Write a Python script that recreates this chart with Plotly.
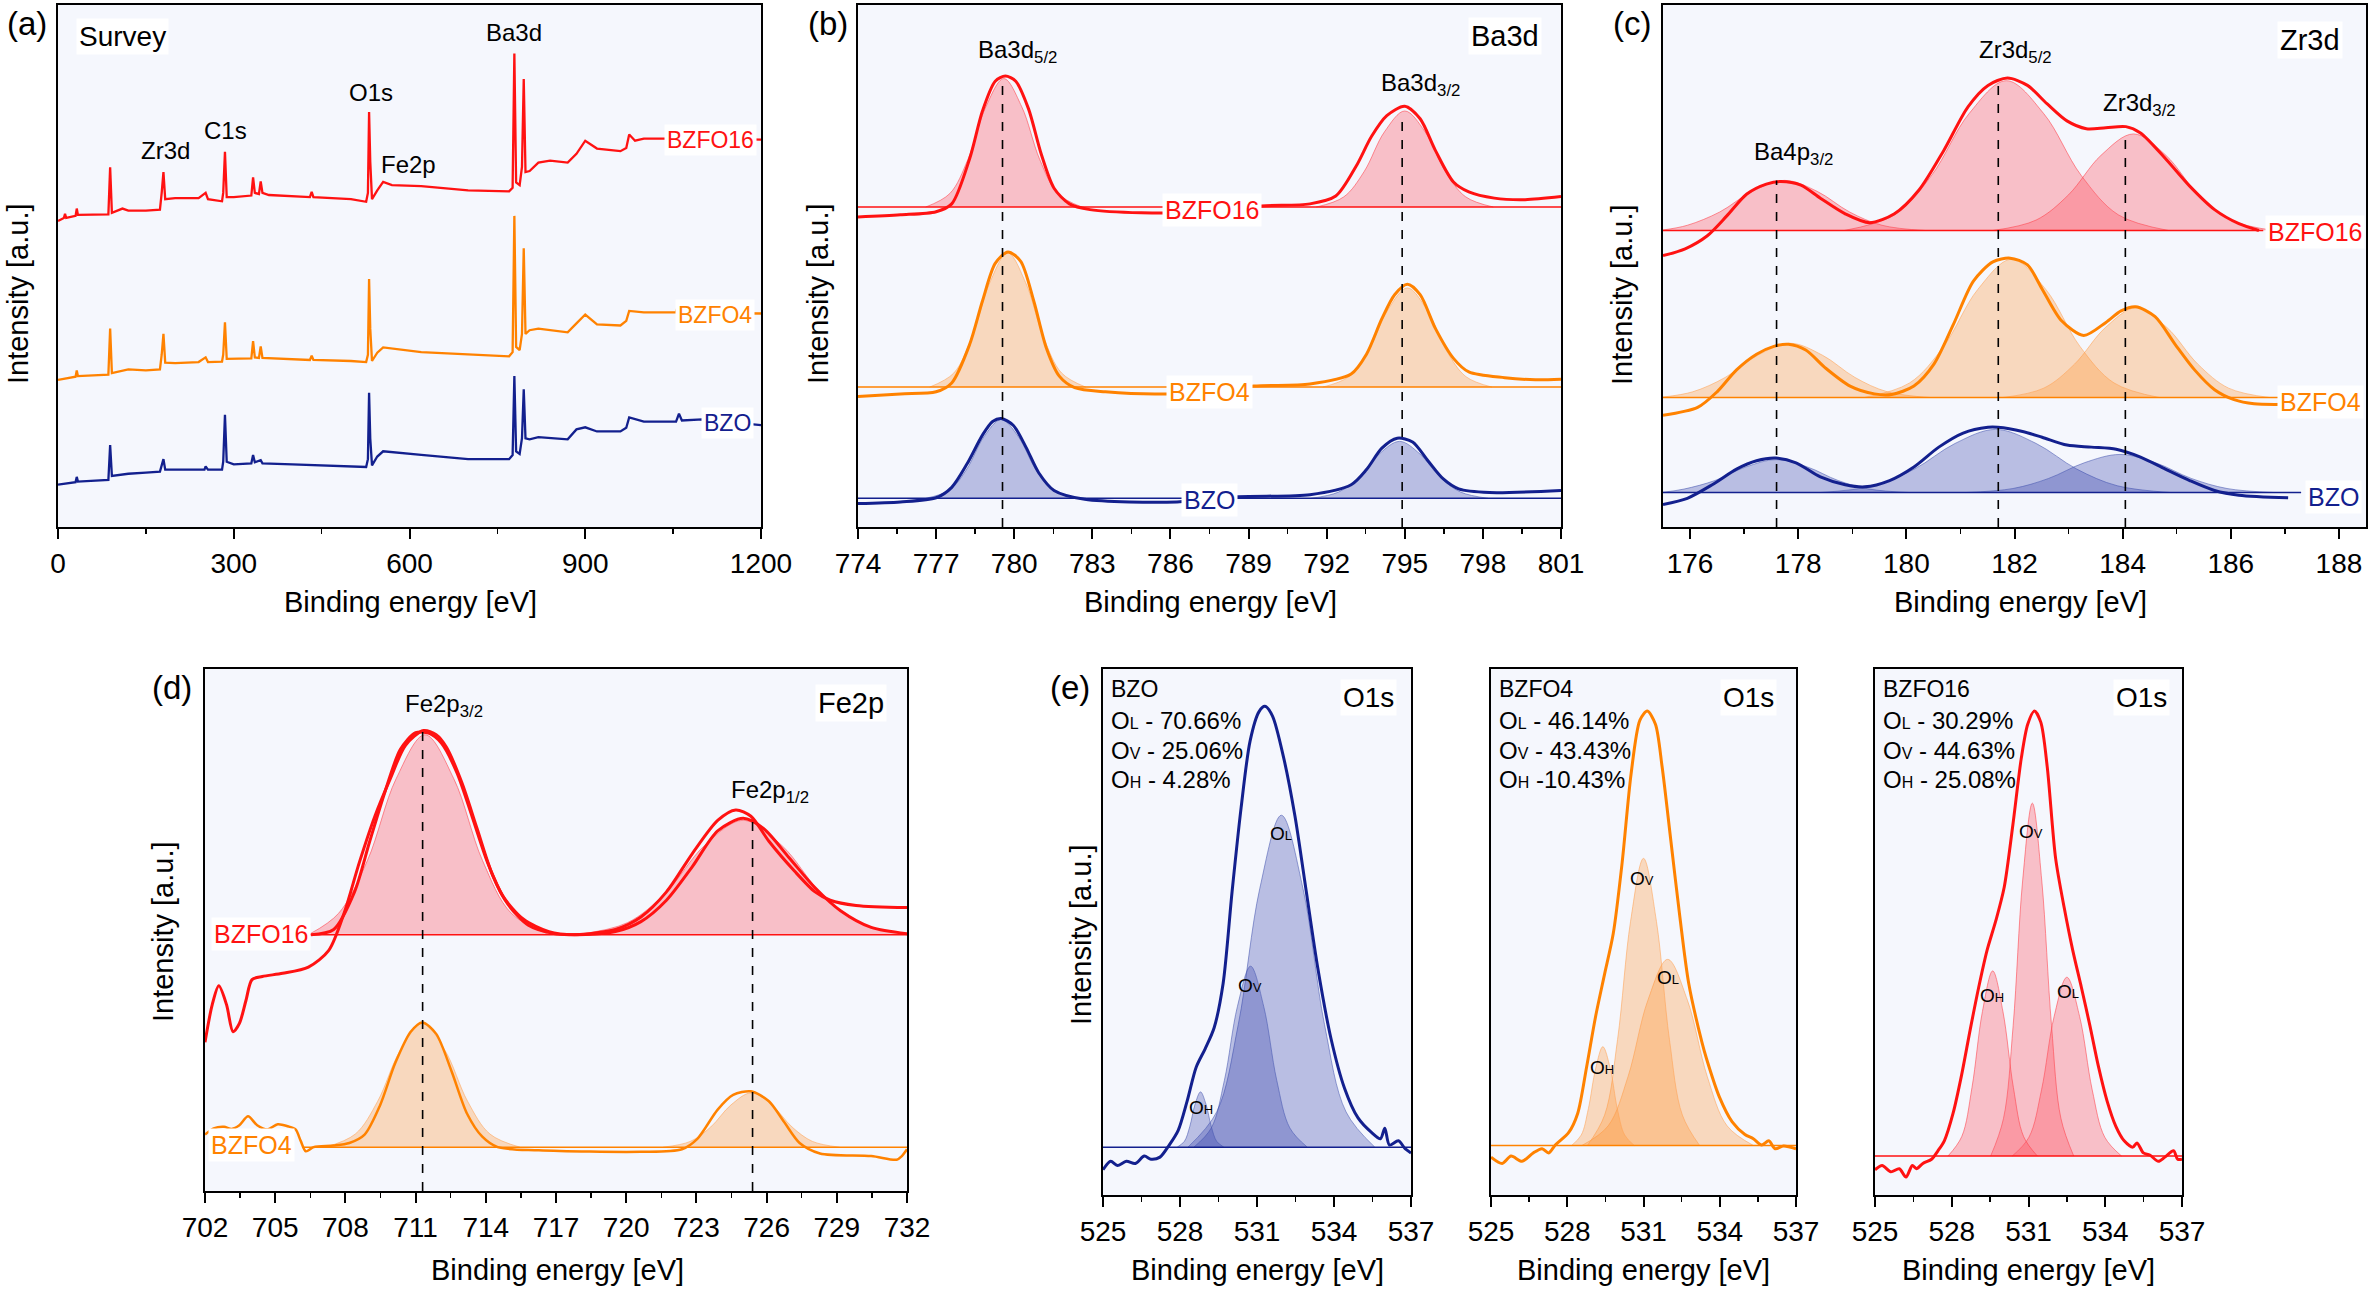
import plotly.graph_objects as go

# ======================= DATA =======================
# y values are in arbitrary intensity units (0..100 over the plot height)

# (a) survey spectra: (binding energy eV, intensity)
a_bzfo16 = [(0, 58.6), (10, 59.2), (12, 60.0), (14, 59.2), (30, 59.6), (32, 61.0), (34, 59.8), (60, 59.8),
            (86, 59.9), (89, 68.9), (92, 60.2), (110, 61.0), (120, 60.6), (150, 60.6), (174, 60.8), (177, 64.0),
            (180, 68.0), (183, 62.8), (200, 63.0), (240, 63.0), (252, 64.0), (256, 62.8), (280, 62.4), (282, 64.0),
            (285, 71.9), (288, 63.2), (300, 63.2), (330, 63.5), (333, 67.0), (336, 64.0), (343, 63.8), (346, 66.2),
            (349, 64.0), (360, 63.6), (400, 63.4), (430, 63.2), (433, 64.2), (436, 63.2), (500, 62.8), (526, 62.3),
            (529, 64.0), (531, 79.5), (533, 70.0), (536, 62.8), (545, 64.5), (555, 66.1), (570, 65.5), (620, 65.3),
            (700, 64.5), (770, 64.3), (776, 65.0), (779, 90.7), (782, 66.0), (788, 65.5), (792, 69.0), (795, 85.8),
            (798, 68.0), (805, 68.2), (820, 69.8), (840, 70.2), (870, 69.8), (885, 71.5), (900, 74.0), (920, 72.5),
            (960, 72.0), (970, 72.6), (975, 75.2), (985, 74.0), (1000, 74.4), (1035, 74.4), (1100, 74.4), (1200, 74.2)]
a_bzfo4 = [(0, 28.2), (30, 28.8), (32, 30.0), (34, 28.9), (86, 29.2), (89, 38.0), (92, 29.5), (120, 30.2), (150, 30.0),
           (174, 30.2), (177, 33.0), (180, 37.0), (183, 31.5), (200, 31.4), (240, 31.6), (252, 32.5), (256, 31.6),
           (280, 31.7), (282, 33.0), (285, 39.2), (288, 32.2), (330, 32.3), (333, 35.6), (336, 32.5), (343, 32.4),
           (346, 34.6), (349, 32.4), (400, 32.1), (430, 32.0), (433, 32.8), (436, 32.0), (500, 31.8), (526, 31.6),
           (529, 33.0), (531, 47.5), (533, 38.0), (536, 31.8), (545, 33.4), (555, 34.4), (620, 33.5), (700, 33.1),
           (770, 32.7), (776, 33.5), (779, 59.6), (782, 34.5), (788, 33.9), (792, 37.0), (795, 53.4), (798, 37.0),
           (805, 37.7), (820, 38.0), (870, 37.3), (885, 39.0), (900, 40.7), (920, 38.8), (960, 38.6), (970, 39.5),
           (975, 41.4), (1000, 41.1), (1055, 41.1), (1060, 43.2), (1063, 41.0), (1100, 41.0), (1200, 40.9)]
a_bzo = [(0, 8.1), (30, 8.6), (32, 9.6), (34, 8.7), (86, 9.0), (89, 15.7), (92, 9.8), (120, 10.2), (150, 10.4),
         (174, 10.6), (177, 11.8), (180, 13.0), (183, 11.0), (200, 11.0), (250, 11.0), (252, 11.6), (256, 11.0),
         (280, 11.0), (282, 12.5), (285, 21.5), (288, 12.5), (300, 12.0), (330, 12.2), (333, 13.8), (336, 12.4),
         (346, 12.8), (349, 12.2), (400, 12.0), (500, 11.7), (526, 11.5), (529, 13.0), (531, 25.7), (533, 17.0),
         (536, 11.8), (545, 13.5), (555, 14.5), (620, 13.8), (700, 13.0), (770, 13.0), (776, 13.8), (779, 28.9),
         (782, 14.5), (788, 14.0), (792, 17.0), (795, 26.4), (798, 17.0), (805, 16.8), (820, 17.2), (870, 16.8),
         (885, 18.7), (900, 19.1), (920, 18.3), (960, 18.3), (970, 19.0), (975, 21.0), (1000, 20.2), (1055, 20.2),
         (1060, 21.7), (1065, 20.4), (1100, 20.6), (1200, 19.5)]

# (b) Ba3d
b_bzfo16 = [(774.0, 59.4), (775.63, 59.8), (777.0, 60.4), (777.6, 61.9), (778.29, 70.6), (778.78, 79.7),
            (779.27, 85.4), (779.66, 86.4), (780.06, 85.4), (780.55, 80.1), (781.04, 71.4), (781.53, 64.9),
            (782.12, 61.9), (782.91, 60.8), (784.88, 60.2), (787.43, 60.4), (789.5, 61.5), (791.36, 61.9),
            (792.35, 63.4), (793.13, 69.1), (793.72, 74.8), (794.31, 78.8), (795.0, 80.6), (795.59, 78.2),
            (796.18, 72.1), (796.87, 66.1), (797.46, 64.2), (798.44, 63.0), (799.62, 62.7), (801.0, 63.3)]
b_bzfo4 = [(774.0, 25.0), (775.63, 25.5), (777.0, 25.9), (777.6, 27.6), (778.29, 35.0), (778.78, 43.3),
           (779.27, 50.5), (779.76, 52.7), (780.25, 50.9), (780.75, 43.3), (781.24, 34.2), (781.73, 28.9),
           (782.32, 26.7), (783.5, 25.9), (785.86, 25.5), (789.2, 27.0), (791.36, 27.4), (792.94, 29.3),
           (793.53, 33.1), (794.12, 39.9), (794.61, 44.5), (795.1, 46.5), (795.59, 44.5), (796.18, 38.0),
           (796.87, 32.3), (797.46, 29.7), (798.84, 28.6), (800.02, 28.2), (801.0, 28.3)]
b_bzo = [(774.0, 4.5), (775.63, 4.8), (777.0, 5.6), (777.6, 7.6), (778.19, 12.1), (778.78, 17.6), (779.17, 20.2),
         (779.5, 20.8), (779.96, 19.5), (780.45, 15.3), (780.94, 10.4), (781.53, 7.0), (782.71, 5.3), (786.25, 4.8),
         (788.6, 5.8), (791.36, 6.2), (792.94, 8.1), (793.53, 11.0), (794.12, 15.1), (794.71, 17.0), (795.3, 16.3),
         (795.89, 12.7), (796.48, 9.2), (797.07, 7.3), (798.25, 6.6), (801.0, 7.0)]
b_baselines = {"BZFO16": 61.3, "BZFO4": 26.8, "BZO": 5.5}
b_comps_bzfo16 = [
    [(776.6, 61.3), (777.53, 63.9), (778.22, 70.4), (778.91, 80.5), (779.6, 85.9), (780.29, 80.5), (780.98, 70.4), (781.67, 63.9), (782.6, 61.3)],
    [(791.6, 61.3), (792.66, 63.25), (793.44, 68.1), (794.22, 75.7), (795.0, 79.7), (795.78, 75.7), (796.56, 68.1), (797.34, 63.25), (798.4, 61.3)]]
b_comps_bzfo4 = [
    [(776.75, 26.8), (777.68, 29.5), (778.37, 36.3), (779.06, 46.8), (779.75, 52.5), (780.44, 46.8), (781.13, 36.3), (781.82, 29.5), (782.75, 26.8)],
    [(791.85, 26.8), (792.85, 28.8), (793.6, 33.8), (794.35, 41.6), (795.1, 45.8), (795.85, 41.6), (796.6, 33.8), (797.35, 28.8), (798.35, 26.8)]]
b_comps_bzo = [
    [(776.6, 5.5), (777.52, 7.1), (778.18, 11.1), (778.84, 17.3), (779.5, 20.6), (780.16, 17.3), (780.82, 11.1), (781.48, 7.1), (782.4, 5.5)],
    [(791.4, 5.5), (792.46, 6.7), (793.24, 9.5), (794.02, 14.0), (794.8, 16.4), (795.58, 14.0), (796.36, 9.5), (797.14, 6.7), (798.2, 5.5)]]
b_peak_pos = [779.55, 794.9]
b_peak_top = [86.1, 78.9]

# (c) Zr3d
c_bzfo16 = [(175.5, 52.0), (175.91, 53.3), (176.32, 55.8), (176.68, 59.6), (177.05, 63.8), (177.41, 65.7),
            (177.68, 66.2), (178.05, 65.5), (178.41, 63.0), (178.87, 60.0), (179.32, 58.3), (179.78, 60.0),
            (180.23, 64.5), (180.69, 72.1), (181.14, 80.5), (181.51, 84.6), (181.87, 86.0), (182.24, 84.6),
            (182.6, 81.1), (182.97, 77.8), (183.33, 76.3), (183.69, 76.5), (184.06, 76.7), (184.33, 75.5),
            (184.79, 70.6), (185.24, 65.3), (185.7, 60.8), (186.15, 58.1), (186.52, 56.8)]
c_bzfo4 = [(175.5, 21.4), (176.14, 22.9), (176.5, 25.9), (176.86, 30.1), (177.23, 33.1), (177.55, 34.6),
           (177.82, 35.0), (178.14, 33.9), (178.5, 30.5), (178.96, 27.0), (179.41, 25.5), (179.73, 25.4),
           (180.14, 27.0), (180.51, 31.2), (180.87, 38.8), (181.24, 47.1), (181.6, 50.8), (181.92, 51.5),
           (182.24, 50.2), (182.51, 45.6), (182.87, 39.5), (183.28, 36.7), (183.69, 39.2), (183.97, 41.4),
           (184.24, 42.2), (184.6, 40.3), (184.97, 35.0), (185.33, 30.1), (185.7, 26.3), (186.06, 24.4),
           (186.43, 23.6), (187.06, 23.5)]
c_bzo = [(175.5, 4.3), (175.95, 5.5), (176.41, 8.1), (176.86, 11.1), (177.23, 12.7), (177.59, 13.2), (177.96, 12.3),
         (178.41, 9.6), (178.87, 8.1), (179.23, 7.7), (179.69, 8.9), (180.14, 11.5), (180.6, 15.3), (181.05, 18.0),
         (181.51, 19.1), (181.69, 19.1), (182.15, 18.3), (182.51, 17.2), (182.97, 15.7), (183.42, 15.3),
         (183.88, 14.9), (184.33, 13.4), (184.79, 11.1), (185.24, 8.9), (185.7, 7.0), (186.15, 6.1), (187.06, 5.6)]
c_baselines = {"BZFO16": 56.8, "BZFO4": 24.8, "BZO": 6.6}
c_comps_bzfo16 = [
    [(175.5, 56.9), (175.95, 57.8), (176.55, 60.35), (177.15, 64.3), (177.75, 66.4), (178.35, 64.3), (178.95, 60.35), (179.55, 57.8), (180.35, 56.8)],
    [(178.85, 56.8), (179.78, 59.8), (180.47, 67.4), (181.16, 79.2), (181.85, 85.5), (182.54, 79.2), (183.23, 67.4), (183.92, 59.8), (184.85, 56.8)],
    [(181.6, 56.8), (182.4, 58.8), (183.0, 63.65), (183.6, 71.2), (184.2, 75.3), (184.8, 71.2), (185.4, 63.65), (186.0, 58.8), (186.8, 56.8)]]
c_comps_bzfo4 = [
    [(175.5, 24.9), (176.05, 25.9), (176.65, 28.65), (177.25, 32.9), (177.85, 35.2), (178.45, 32.9), (179.05, 28.65), (179.65, 25.9), (180.45, 24.8)],
    [(179.22, 24.8), (180.06, 27.6), (180.69, 34.6), (181.32, 45.5), (181.95, 51.3), (182.58, 45.5), (183.21, 34.6), (183.84, 27.6), (184.68, 24.8)],
    [(181.78, 24.8), (182.54, 26.6), (183.11, 31.2), (183.68, 38.2), (184.25, 42.0), (184.82, 38.2), (185.39, 31.2), (185.96, 26.6), (186.72, 24.8)]]
c_comps_bzo = [
    [(175.5, 6.65), (175.89, 7.27), (176.46, 8.9), (177.03, 11.5), (177.6, 12.9), (178.17, 11.5), (178.74, 8.9), (179.31, 7.27), (180.07, 6.6)],
    [(178.4, 6.6), (179.4, 7.9), (180.15, 11.1), (180.9, 16.0), (181.65, 18.7), (182.4, 16.0), (183.15, 11.1), (183.9, 7.9), (184.9, 6.6)],
    [(181.09, 6.6), (181.97, 7.37), (182.63, 9.3), (183.29, 12.3), (183.95, 13.9), (184.61, 12.3), (185.27, 9.3), (185.93, 7.37), (186.81, 6.6)]]
c_peak_pos = [177.6, 181.7, 184.05]
c_peak_top = [66.4, 86.1, 75.5]

# (d) Fe2p
d_bzfo16 = [(702.0, 28.5), (702.31, 35.7), (702.59, 39.3), (702.92, 35.7), (703.2, 30.5), (703.47, 32.1),
            (703.75, 36.5), (704.01, 40.5), (704.45, 41.1), (705.32, 41.7), (706.42, 42.9), (707.29, 46.1),
            (707.95, 53.3), (708.6, 63.0), (709.26, 71.8), (709.92, 79.0), (710.57, 85.4), (711.34, 88.2),
            (711.88, 87.4), (712.32, 85.0), (712.98, 78.2), (713.63, 69.4), (714.29, 60.5), (714.95, 54.9),
            (715.82, 50.9), (716.91, 49.3), (717.57, 49.1), (718.44, 49.3), (719.54, 50.1), (720.63, 52.5),
            (721.72, 57.3), (722.82, 64.6), (723.91, 71.0), (724.68, 73.0), (725.33, 71.8), (726.1, 67.0),
            (727.19, 61.3), (728.07, 57.3), (728.72, 55.7), (729.82, 54.7), (732.0, 54.3)]
d_fit_bzfo16 = [(706.53, 49.1), (707.5, 50.1), (708.39, 57.3), (709.04, 67.0), (709.7, 76.6), (710.35, 84.6),
                (711.0, 87.8), (711.56, 87.7), (712.1, 85.8), (712.76, 80.2), (713.41, 71.8), (714.07, 63.0),
                (714.73, 56.5), (715.6, 52.1), (716.7, 49.7), (717.79, 49.1), (719.54, 49.7), (720.63, 51.6),
                (721.72, 55.7), (722.82, 62.1), (723.91, 69.0), (725.0, 71.4), (725.88, 69.4), (726.97, 63.8),
                (728.07, 58.1), (729.16, 53.7), (730.47, 50.5), (732.0, 49.3)]
d_bzfo4 = [(702.0, 10.8), (702.37, 12.0), (702.81, 12.3), (703.14, 11.9), (703.47, 12.6), (703.84, 14.3),
           (704.23, 12.6), (704.67, 11.8), (705.11, 12.8), (705.54, 12.4), (705.87, 11.8), (706.09, 9.6),
           (706.31, 7.6), (706.64, 8.4), (707.51, 8.7), (708.17, 9.2), (708.82, 10.8), (709.48, 16.4),
           (710.13, 24.5), (710.79, 30.5), (711.29, 32.3), (711.88, 30.1), (712.54, 22.9), (713.2, 14.8),
           (713.85, 10.4), (714.51, 8.4), (716.26, 7.8), (720.63, 7.5), (722.38, 8.0), (723.04, 10.0),
           (723.91, 15.6), (724.57, 18.4), (725.33, 19.1), (726.1, 17.2), (726.75, 13.2), (727.41, 9.2),
           (728.28, 7.2), (730.47, 6.7), (731.56, 6.0), (731.78, 6.7), (732.0, 8.0)]
d_baselines = {"BZFO16": 49.1, "BZFO4": 8.4}
d_comps_bzfo16 = [
    [(706.5, 49.3), (707.71, 53.2), (708.94, 63.3), (710.17, 79.0), (711.4, 87.4), (712.63, 79.0), (713.86, 63.3), (715.09, 53.2), (716.73, 49.1)],
    [(717.85, 49.1), (720.05, 51.4), (721.7, 57.2), (723.35, 66.2), (725.0, 71.0), (726.65, 66.2), (728.3, 57.2), (729.95, 51.4), (732.0, 49.2)]]
d_comps_bzfo4 = [
    [(707.14, 8.4), (708.42, 10.9), (709.38, 17.2), (710.34, 26.9), (711.3, 32.1), (712.26, 26.9), (713.22, 17.2), (714.18, 10.9), (715.46, 8.4)],
    [(721.58, 8.4), (722.74, 9.5), (723.61, 12.25), (724.48, 16.5), (725.35, 18.8), (726.22, 16.5), (727.09, 12.25), (727.96, 9.5), (729.12, 8.4)]]
d_peak_pos = [711.3, 725.4]
d_peak_top = [88.2, 71.4]

# (e) O1s
e_bzo = [(525.0, 4.8), (525.3, 6.4), (525.56, 5.6), (525.91, 6.4), (526.26, 6.0), (526.61, 7.4), (526.87, 6.8),
         (527.22, 7.2), (527.58, 9.5), (527.93, 12.3), (528.28, 17.9), (528.63, 24.3), (528.98, 27.8),
         (529.33, 31.8), (529.68, 40.2), (530.03, 57.7), (530.38, 73.6), (530.73, 86.3), (531.08, 91.9),
         (531.31, 92.9), (531.6, 91.1), (532.04, 83.1), (532.48, 72.0), (532.92, 57.7), (533.36, 43.4),
         (533.88, 29.8), (534.41, 20.3), (534.93, 14.7), (535.46, 11.9), (535.81, 10.7), (535.98, 12.7),
         (536.16, 9.5), (536.51, 10.3), (536.77, 8.8), (537.0, 8.0)]
e_bzfo4 = [(525.0, 7.2), (525.44, 6.0), (525.79, 7.4), (526.22, 6.4), (526.66, 8.0), (527.01, 8.8), (527.27, 8.0),
           (527.53, 9.5), (528.06, 11.9), (528.41, 15.5), (528.76, 24.3), (529.11, 33.8), (529.46, 41.8),
           (529.81, 49.7), (530.16, 63.2), (530.51, 80.0), (530.86, 90.3), (531.15, 92.0), (531.47, 89.5),
           (531.73, 81.5), (532.08, 67.2), (532.43, 52.9), (532.78, 40.2), (533.3, 29.0), (533.48, 25.9),
           (533.98, 18.7), (534.49, 13.9), (534.99, 11.5), (535.32, 10.7), (535.65, 9.5), (535.93, 10.3),
           (536.18, 8.8), (536.51, 9.3), (537.0, 8.8)]
e_bzfo16 = [(525.0, 4.8), (525.28, 5.6), (525.62, 4.4), (525.95, 5.0), (526.21, 3.4), (526.46, 5.6), (526.62, 5.0),
            (526.87, 6.0), (527.21, 6.8), (527.46, 8.4), (527.71, 10.3), (528.05, 15.5), (528.38, 22.7),
            (528.72, 31.4), (529.05, 39.4), (529.38, 46.5), (529.72, 52.1), (530.05, 58.5), (530.39, 70.4),
            (530.72, 83.1), (530.97, 89.5), (531.23, 92.0), (531.48, 89.9), (531.73, 81.5), (532.06, 64.0),
            (532.4, 54.5), (532.73, 46.5), (533.07, 39.4), (533.4, 32.2), (533.74, 24.3), (534.07, 17.9),
            (534.41, 13.1), (534.74, 10.3), (535.08, 9.1), (535.24, 9.9), (535.49, 8.0), (535.74, 7.6),
            (536.08, 6.4), (536.33, 7.2), (536.67, 8.4), (536.83, 6.8), (537.0, 6.8)]
e_baselines = {"BZO": 9.1, "BZFO4": 9.4, "BZFO16": 7.4}
# components in order O_L, O_V, O_H
e_comps_bzo = [
    [(528.31, 9.1), (529.43, 15.8), (530.27, 32.4), (531.11, 58.3), (531.95, 72.2), (532.79, 58.3), (533.63, 32.4), (534.47, 15.8), (535.59, 9.1)],
    [(528.54, 9.1), (529.22, 12.75), (529.73, 21.8), (530.24, 35.9), (530.75, 43.5), (531.26, 35.9), (531.77, 21.8), (532.28, 12.75), (532.96, 9.1)],
    [(527.89, 9.1), (528.17, 10.2), (528.38, 13.0), (528.59, 17.3), (528.8, 19.6), (529.01, 17.3), (529.22, 13.0), (529.43, 10.2), (529.71, 9.1)]]
e_comps_bzfo4 = [
    [(528.57, 9.4), (529.61, 13.15), (530.39, 22.5), (531.17, 37.0), (531.95, 44.8), (532.73, 37.0), (533.51, 22.5), (534.29, 13.15), (535.33, 9.4)],
    [(528.79, 9.4), (529.47, 15.2), (529.98, 29.6), (530.49, 52.0), (531.0, 64.0), (531.51, 52.0), (532.02, 29.6), (532.53, 15.2), (533.21, 9.4)],
    [(528.17, 9.4), (528.55, 11.4), (528.83, 16.4), (529.12, 24.1), (529.4, 28.2), (529.69, 24.1), (529.97, 16.4), (530.26, 11.4), (530.64, 9.4)]]
e_comps_bzfo16 = [
    [(530.36, 7.4), (531.02, 11.0), (531.51, 20.0), (532.0, 33.9), (532.5, 41.4), (533.0, 33.9), (533.49, 20.0), (533.98, 11.0), (534.64, 7.4)],
    [(529.52, 7.4), (530.02, 14.5), (530.4, 32.2), (530.77, 59.7), (531.15, 74.5), (531.52, 59.7), (531.9, 32.2), (532.27, 14.5), (532.77, 7.4)],
    [(527.85, 7.4), (528.39, 11.1), (528.79, 20.4), (529.2, 34.9), (529.6, 42.6), (530.0, 34.9), (530.41, 20.4), (530.81, 11.1), (531.35, 7.4)]]
e_fractions = {"BZO": ["70.66%", "25.06%", "4.28%"],
               "BZFO4": ["46.14%", "43.43%", "10.43%"],
               "BZFO16": ["30.29%", "44.63%", "25.08%"]}

# ======================= STYLE / LAYOUT =======================
W, H = 2370, 1296
FONT = "Liberation Sans, Arial, Helvetica, sans-serif"
BG = "#F5F7FD"
COL = {"BZFO16": "#FF1212", "BZFO4": "#FF8200", "BZO": "#13208E"}
FILLC = {"BZFO16": "rgba(255,80,95,0.33)", "BZFO4": "rgba(255,145,45,0.30)", "BZO": "rgba(45,60,170,0.30)"}
EDGEC = {"BZFO16": "rgba(255,60,70,0.55)", "BZFO4": "rgba(255,160,80,0.55)", "BZO": "rgba(70,85,175,0.55)"}

# pixel boxes (left, right, top, bottom)
BOX = {1: (58, 761, 5, 527), 2: (858, 1561, 5, 527), 3: (1663, 2366, 5, 527),
       4: (205, 907, 669, 1191), 5: (1103, 1411, 669, 1195), 6: (1491, 1796, 669, 1195),
       7: (1875, 2182, 669, 1195)}
XR = {1: (0, 1200, 0, 300, 150), 2: (774, 801, 774, 3, 1.5), 3: (175.5, 188.5, 176, 2, 1),
      4: (702, 732, 702, 3, 1.5), 5: (525, 537, 525, 3, 1.5), 6: (525, 537, 525, 3, 1.5),
      7: (525, 537, 525, 3, 1.5)}

def px(x):
    return x / W

def py(y):
    return 1 - y / H

fig = go.Figure()
layout = dict(width=W, height=H, autosize=False,
              margin=dict(l=0, r=0, t=0, b=0, pad=0, autoexpand=False), paper_bgcolor="white",
              plot_bgcolor=BG, showlegend=False, font=dict(family=FONT, color="black"))
for i, (l, r, t, b) in BOX.items():
    s = "" if i == 1 else str(i)
    lo, hi, t0, dt, mdt = XR[i]
    layout["xaxis" + s] = dict(domain=[px(l), px(r)], range=[lo, hi], anchor="y" + s, tick0=t0, dtick=dt,
                               automargin=False,
                               ticks="outside", ticklen=10, tickwidth=2, tickcolor="black", showline=True,
                               linecolor="black", linewidth=2, mirror=True, showgrid=False, zeroline=False,
                               tickfont=dict(size=28, family=FONT, color="black"),
                               minor=dict(tick0=t0, dtick=mdt, ticks="outside", ticklen=5, tickwidth=1.5,
                                          tickcolor="black", showgrid=False))
    layout["yaxis" + s] = dict(domain=[py(b), py(t)], range=[0, 100], anchor="x" + s, showticklabels=False,
                               automargin=False,
                               ticks="", showline=True, linecolor="black", linewidth=2, mirror=True,
                               showgrid=False, zeroline=False)
fig.update_layout(**layout)

def refs(i):
    s = "" if i == 1 else str(i)
    return "x" + s, "y" + s

def line(i, pts, color, width=3, shape="spline"):
    xa, ya = refs(i)
    xs, ys = zip(*pts)
    fig.add_trace(go.Scatter(x=list(xs), y=list(ys), mode="lines", xaxis=xa, yaxis=ya,
                             line=dict(color=color, width=width, shape=shape, smoothing=0.8),
                             hoverinfo="skip"))

def comp(i, pts, key):
    xa, ya = refs(i)
    xs, ys = zip(*pts)
    fig.add_trace(go.Scatter(x=list(xs), y=list(ys), mode="lines", xaxis=xa, yaxis=ya, fill="toself",
                             fillcolor=FILLC[key], line=dict(color=EDGEC[key], width=1, shape="spline"),
                             hoverinfo="skip"))

def base(i, x0, x1, yv, key):
    xa, ya = refs(i)
    fig.add_trace(go.Scatter(x=[x0, x1], y=[yv, yv], mode="lines", xaxis=xa, yaxis=ya,
                             line=dict(color=COL[key], width=1.5), hoverinfo="skip"))

annotations = []
shapes = []

def ann(i, text, x, y, size=24, color="black", xanchor="center", bg=None):
    xa, ya = refs(i)
    d = dict(text=text, x=x, y=y, xref=xa, yref=ya, showarrow=False, xanchor=xanchor, yanchor="middle",
             font=dict(size=size, color=color, family=FONT))
    if bg:
        d.update(bgcolor=bg, borderpad=2)
    annotations.append(d)

def pann(text, x, y, size, angle=0):
    annotations.append(dict(text=text, x=px(x), y=py(y), xref="paper", yref="paper", showarrow=False,
                            xanchor="center", yanchor="middle", textangle=angle,
                            font=dict(size=size, color="black", family=FONT)))

def vdash(i, xs, tops):
    xa, ya = refs(i)
    for xv, tv in zip(xs, tops):
        shapes.append(dict(type="line", xref=xa, yref=ya, x0=xv, x1=xv, y0=0, y1=tv, layer="above",
                           line=dict(color="black", width=1.6, dash="dash")))

# ---------- (a) ----------
for key, pts in [("BZFO16", a_bzfo16), ("BZFO4", a_bzfo4), ("BZO", a_bzo)]:
    line(1, pts, COL[key], width=2.3, shape="linear")
ann(1, "Survey", 110, 94.0, size=28, bg="white")
ann(1, "Zr3d", 183, 72.1)
ann(1, "C1s", 286, 76.0)
ann(1, "O1s", 534, 83.3)
ann(1, "Fe2p", 598, 69.5)
ann(1, "Ba3d", 779, 94.8)
ann(1, "BZFO16", 1113, 74.2, size=23, color=COL["BZFO16"], bg="white")
ann(1, "BZFO4", 1121, 40.7, size=23, color=COL["BZFO4"], bg="white")
ann(1, "BZO", 1143, 20.0, size=23, color=COL["BZO"], bg="white")

# ---------- (b) ----------
for key, comps, data in [("BZFO16", b_comps_bzfo16, b_bzfo16), ("BZFO4", b_comps_bzfo4, b_bzfo4),
                         ("BZO", b_comps_bzo, b_bzo)]:
    for c in comps:
        comp(2, c, key)
    base(2, 774, 801, b_baselines[key], key)
    line(2, data, COL[key])
vdash(2, b_peak_pos, b_peak_top)
ann(2, "Ba3d<sub>5/2</sub>", 778.55, 91.0, xanchor="left")
ann(2, "Ba3d<sub>3/2</sub>", 794.0, 84.8, xanchor="left")
ann(2, "Ba3d", 798.84, 94.1, size=29, bg="white")
ann(2, "BZFO16", 787.6, 60.8, size=25, color=COL["BZFO16"], bg="white")
ann(2, "BZFO4", 787.5, 25.9, size=25, color=COL["BZFO4"], bg="white")
ann(2, "BZO", 787.5, 5.1, size=25, color=COL["BZO"], bg="white")

# ---------- (c) ----------
c_base_ends = {"BZFO16": 186.6, "BZFO4": 187.2, "BZO": 187.3}
for key, comps, data in [("BZFO16", c_comps_bzfo16, c_bzfo16), ("BZFO4", c_comps_bzfo4, c_bzfo4),
                         ("BZO", c_comps_bzo, c_bzo)]:
    for c in comps:
        comp(3, c, key)
    base(3, 175.5, c_base_ends[key], c_baselines[key], key)
    line(3, data, COL[key])
vdash(3, c_peak_pos, c_peak_top)
ann(3, "Ba4p<sub>3/2</sub>", 177.15, 71.5, xanchor="left")
ann(3, "Zr3d<sub>5/2</sub>", 181.3, 91.0, xanchor="left")
ann(3, "Zr3d<sub>3/2</sub>", 183.6, 81.0, xanchor="left")
ann(3, "Zr3d", 187.47, 93.3, size=29, bg="white")
ann(3, "BZFO16", 187.55, 56.6, size=25, color=COL["BZFO16"], bg="white")
ann(3, "BZFO4", 187.65, 24.0, size=25, color=COL["BZFO4"], bg="white")
ann(3, "BZO", 187.9, 5.8, size=25, color=COL["BZO"], bg="white")

# ---------- (d) ----------
d_base_starts = {"BZFO16": 706.5, "BZFO4": 706.2}
for key, comps in [("BZFO16", d_comps_bzfo16), ("BZFO4", d_comps_bzfo4)]:
    for c in comps:
        comp(4, c, key)
    base(4, d_base_starts[key], 732, d_baselines[key], key)
line(4, d_fit_bzfo16, COL["BZFO16"], width=3)
line(4, d_bzfo16, COL["BZFO16"], width=3)
line(4, d_bzfo4, COL["BZFO4"], width=2.5)
vdash(4, d_peak_pos, d_peak_top)
ann(4, "Fe2p<sub>3/2</sub>", 710.45, 93.0, xanchor="left")
ann(4, "Fe2p<sub>1/2</sub>", 724.4, 76.6, xanchor="left")
ann(4, "Fe2p", 729.6, 93.4, size=29, bg="white")
ann(4, "BZFO16", 704.4, 49.3, size=25, color=COL["BZFO16"], bg="white")
ann(4, "BZFO4", 704.0, 8.8, size=25, color=COL["BZFO4"], bg="white")

# ---------- (e) ----------
def osub(letter, size):
    return "O<span style='font-size:%dpx'>%s</span>" % (size, letter)

e_sets = [(5, "BZO", e_comps_bzo, e_bzo, 535.34,
           [(531.95, 68.7), (530.73, 39.8), (528.8, 16.7)]),
          (6, "BZFO4", e_comps_bzfo4, e_bzfo4, 535.15,
           [(531.98, 41.4), (530.94, 60.1), (529.37, 24.3)]),
          (7, "BZFO16", e_comps_bzfo16, e_bzfo16, 535.41,
           [(532.53, 38.6), (531.11, 69.1), (529.59, 37.9)])]
for i, key, comps, data, o1s_x, lab_pos in e_sets:
    for c in comps:
        comp(i, c, key)
    base(i, 525, 537, e_baselines[key], key)
    line(i, data, COL[key], width=3)
    fr = e_fractions[key]
    ann(i, key, 525.25, 96.2, size=23, xanchor="left")
    sep = [" - ", " - ", " -" if key == "BZFO4" else " - "]
    for j, (letter, yv) in enumerate(zip(["L", "V", "H"], [90.2, 84.6, 78.9])):
        ann(i, osub(letter, 16) + sep[j] + fr[j], 525.25, yv, size=24, xanchor="left")
    ann(i, "O1s", o1s_x, 94.5, size=28, bg="white")
    for letter, (lx, ly) in zip(["L", "V", "H"], lab_pos):
        ann(i, osub(letter, 13), lx, ly, size=19)

# ---------- titles / panel letters ----------
for cx in [410, 1210, 2020]:
    pann("Binding energy [eV]", cx, 602, 29)
for cx in [557, 1257, 1643, 2028]:
    pann("Binding energy [eV]", cx, 1270, 29)
for (cx, cy) in [(18, 294), (818, 294), (1622, 294), (163, 932), (1081, 935)]:
    pann("Intensity [a.u.]", cx, cy, 29, angle=-90)
for t, (cx, cy) in zip(["(a)", "(b)", "(c)", "(d)", "(e)"],
                       [(27, 23), (828, 23), (1632, 23), (172, 687), (1070, 687)]):
    pann(t, cx, cy, 33)

fig.update_layout(annotations=annotations, shapes=shapes)
fig.write_html("out.html",
               config={"displayModeBar": False, "staticPlot": True},
               post_script="document.body.style.margin='0';document.body.style.padding='0';"
                           "document.body.style.overflow='hidden';"
                           "document.documentElement.style.overflow='hidden';")
